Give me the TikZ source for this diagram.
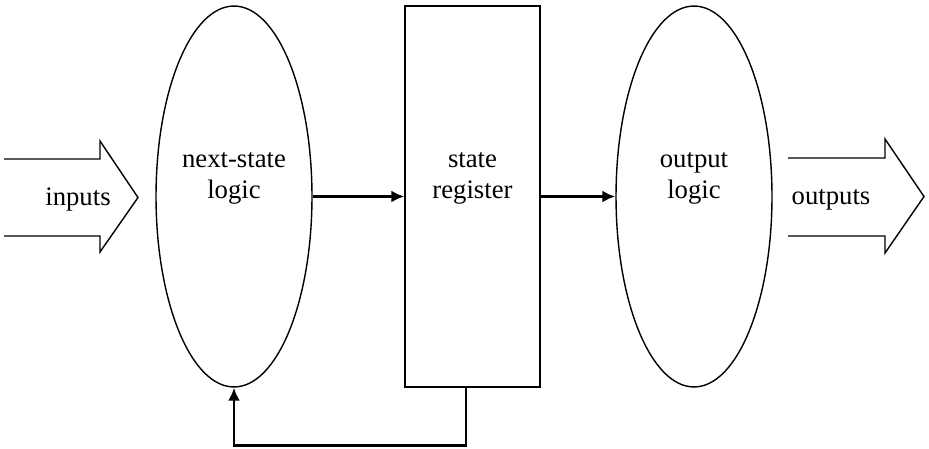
\documentclass[tikz,border=0pt]{standalone}
\usepackage{fontspec}
\setmainfont{Liberation Serif}
\usetikzlibrary{shapes.geometric,arrows.meta}

\tikzset{
  logicbox/.style={draw,ellipse,line width=0.8pt,minimum width=3.12cm,minimum height=7.62cm,inner sep=0pt,align=center},
  regbox/.style={draw,rectangle,line width=0.8pt,minimum width=2.7cm,minimum height=7.62cm,inner sep=0pt,align=center},
  sig/.style={line width=1.6pt,-{Latex[length=0.26cm,width=0.24cm]}},
  bigarrow/.style={line width=0.8pt,line join=miter}
}

\begin{document}
\begin{tikzpicture}[x=0.02cm,y=-0.02cm,font=\fontsize{15.2}{17.6}\selectfont]
        \useasboundingbox (0,0) rectangle (929,449) ;
        %\draw[very thin,gray,step=50] (0,0) grid (929,449) ;
        \node[logicbox] (nsl) at (234,196.5) {next-state\\logic\\[6pt]} ;
        \node[regbox] (reg) at (472.5,196.5) {state\\register\\[6pt]} ;
        \node[logicbox] (outl) at (694,196.5) {output\\logic\\[6pt]} ;
        \draw[sig] (nsl.east) -- (reg.west) ;
        \draw[sig] (reg.east) -- (outl.west) ;
        \coordinate (fb) at ([xshift=-0.13cm]reg.south) ;
        \draw[sig] (fb) -- ++(0,58) -| (nsl.south) ;
        % fat arrows in and out
        \draw[bigarrow] (4,159) -- (100,159) -- (100,141) -- (138,197.5)
        -- (100,252) -- (100,236) -- (4,236) ;
        \node (in) at (78,200) {inputs} ;
        \draw[bigarrow] (788,158) -- (885,158) -- (885,139) -- (924,196.5)
        -- (885,253) -- (885,236) -- (788,236) ;
        \node (out) at (831,200) {outputs} ;
      \end{tikzpicture}
\end{document}
